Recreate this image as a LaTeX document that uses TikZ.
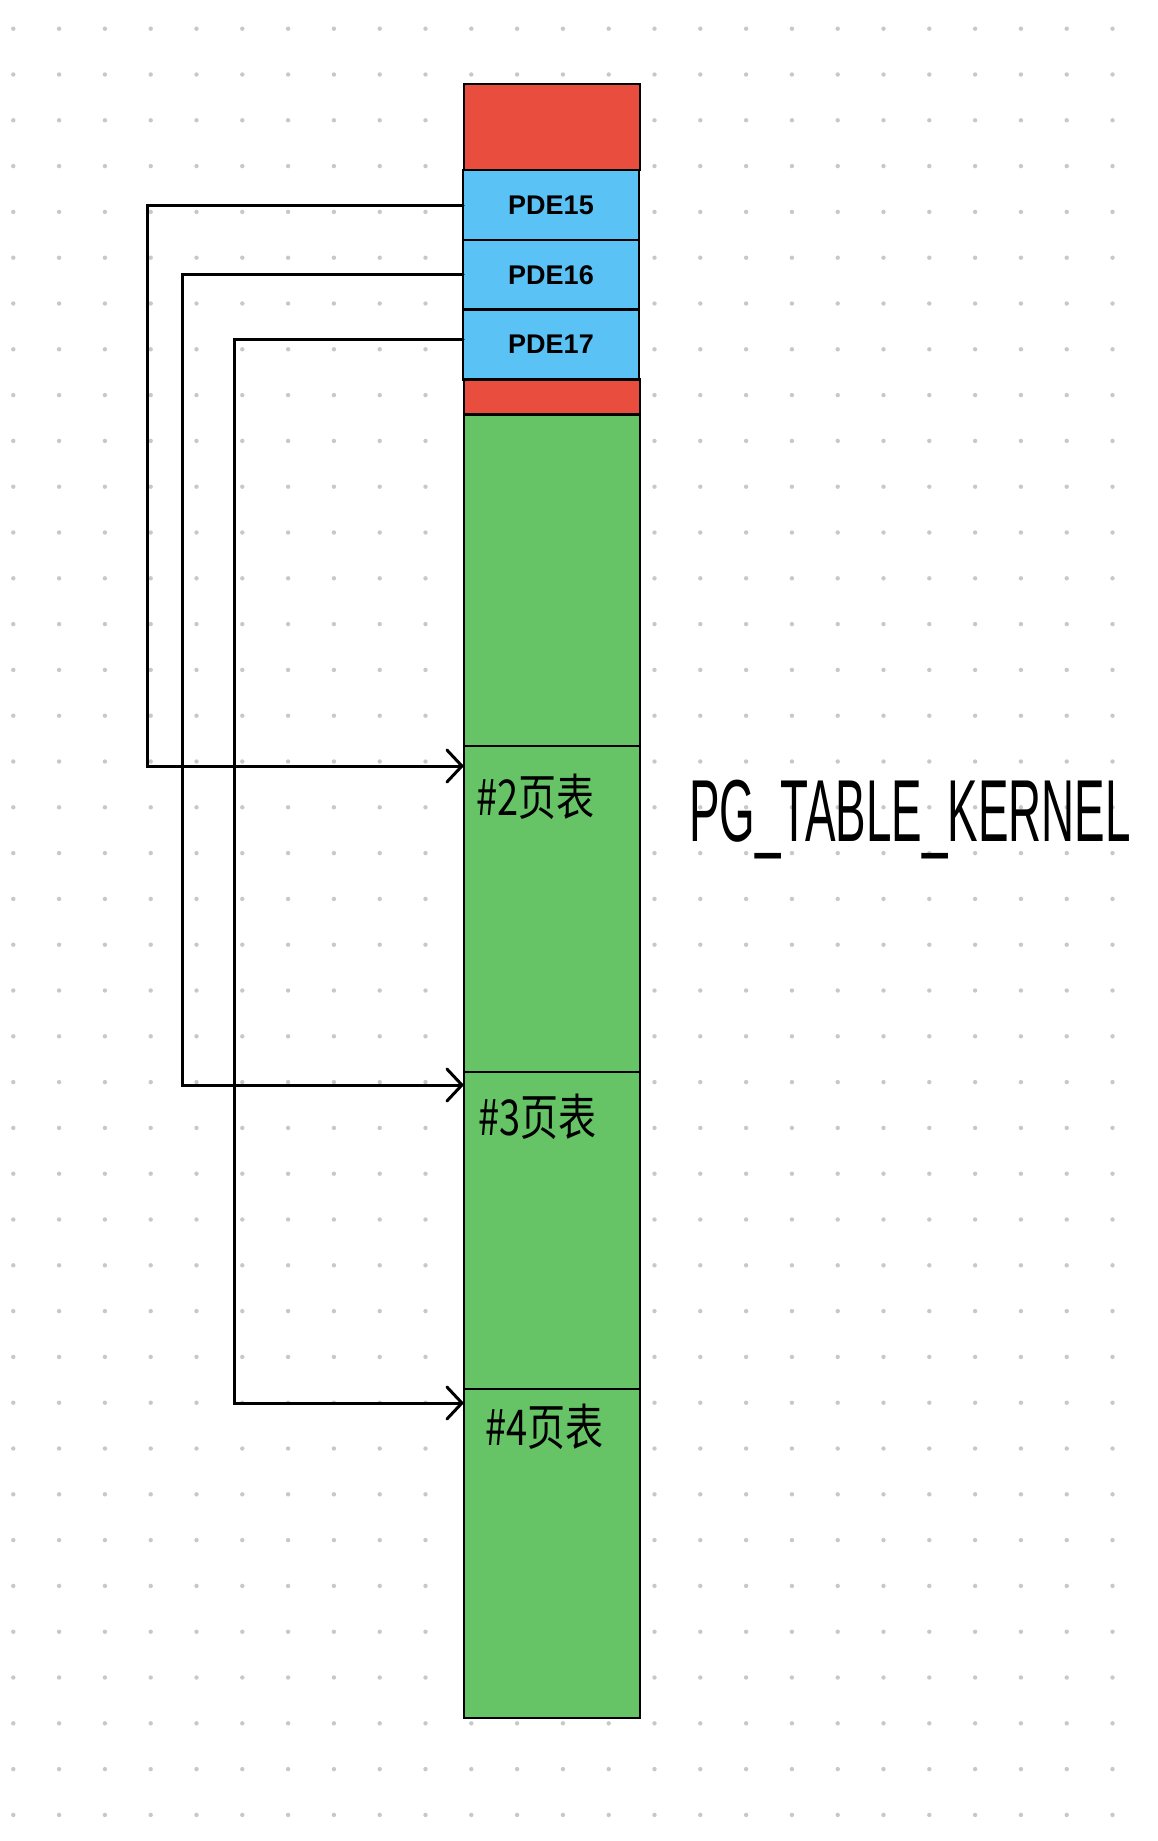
\documentclass[tikz,border=0pt]{standalone}
\usepackage{fontspec}
\setmainfont{Liberation Sans}
\newfontfamily\cjk{Noto Sans CJK SC}
\usetikzlibrary{arrows.meta}
\definecolor{cellred}{RGB}{232,77,61}
\definecolor{cellblue}{RGB}{91,194,245}
\definecolor{cellgreen}{RGB}{102,196,103}
\definecolor{dotgray}{RGB}{200,200,200}
\begin{document}
\begin{tikzpicture}[x=1pt,y=-1pt,
  cell/.style={draw=black,line width=2.5pt,inner sep=0pt,outer sep=0pt,anchor=north west,minimum width=176pt},
  pdelabel/.style={font=\bfseries\fontsize{27}{29}\selectfont},
  link/.style={draw=black,line width=3pt,line cap=round,line join=miter,-{Straight Barb[length=15pt,width=32pt,line cap=round]}},
  ptlabel/.style={font=\cjk\fontsize{38}{40}\selectfont,anchor=west,inner sep=0pt},
]
\fill[white] (0,0) rectangle (1157,1841);
\useasboundingbox (0,0) rectangle (1157,1841);
% dot grid
\foreach \i in {0,...,24}{
  \foreach \j in {0,...,39}{
    \fill[dotgray] ({13.3+45.8*\i},{28.7+45.8*\j}) circle (2.2pt);
  }
}
% memory column
\node[cell,fill=cellred,minimum height=86pt] (redtop) at (464,84) {};
\node[cell,fill=cellblue,minimum height=70pt,pdelabel] (pde15) at (463,170) {PDE15};
\node[cell,fill=cellblue,minimum height=69.5pt,pdelabel] (pde16) at (463,240) {PDE16};
\node[cell,fill=cellblue,minimum height=70pt,pdelabel] (pde17) at (463,309.5) {PDE17};
\node[cell,fill=cellred,minimum height=34.5pt] (redbot) at (464,379.5) {};
\node[cell,fill=cellgreen,minimum height=331pt] (green1) at (464,415) {};
\node[cell,fill=cellgreen,minimum height=326pt] (pt2) at (464,746) {};
\node[cell,fill=cellgreen,minimum height=317pt] (pt3) at (464,1072) {};
\node[cell,fill=cellgreen,minimum height=329pt] (pt4) at (464,1389) {};
% labels
\node[ptlabel] (l2) at ([xshift=12pt,yshift=-51pt]pt2.north west) {\scalebox{1}[1.3]{\#2页表}};
\node[ptlabel] (l3) at ([xshift=14pt,yshift=-45pt]pt3.north west) {\scalebox{1}[1.3]{\#3页表}};
\node[ptlabel] (l4) at ([xshift=21pt,yshift=-38pt]pt4.north west) {\scalebox{1}[1.3]{\#4页表}};
\node[font=\fontsize{88}{90}\selectfont,inner sep=0pt] (kernel) at (910,820) {\scalebox{0.52}[1]{PG\_TABLE\_KERNEL}};
% connectors
\coordinate (v15) at (147,0);
\coordinate (v16) at (182,0);
\coordinate (v17) at (234,0);
\coordinate (t2) at ([yshift=-20pt]pt2.north west);
\coordinate (t3) at ([yshift=-13pt]pt3.north west);
\coordinate (t4) at ([yshift=-14pt]pt4.north west);
\draw[link] (pde15.west) -| (v15 |- t2) -- (t2);
\draw[link] (pde16.west) -| (v16 |- t3) -- (t3);
\draw[link] ([yshift=5pt]pde17.west) -| (v17 |- t4) -- (t4);
\end{tikzpicture}
\end{document}
